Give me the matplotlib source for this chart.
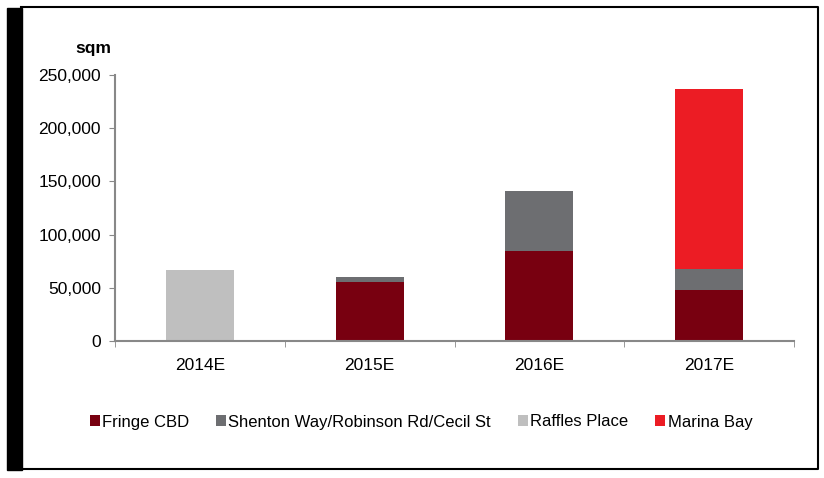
import matplotlib.pyplot as plt
from matplotlib.ticker import FuncFormatter

plt.rcParams['font.family'] = ['Liberation Sans', 'DejaVu Sans']

years = ["2014E", "2015E", "2016E", "2017E"]
fringe = [0, 55000, 85000, 48000]
shenton = [0, 5000, 56000, 20000]
raffles = [67000, 0, 0, 0]
marina = [0, 0, 0, 169000]

series = [
    ("Fringe CBD", fringe, "#780010"),
    ("Shenton Way/Robinson Rd/Cecil St", shenton, "#6d6e71"),
    ("Raffles Place", raffles, "#bfbfbf"),
    ("Marina Bay", marina, "#ec1c24"),
]

fig = plt.figure(figsize=(8.24, 4.78), dpi=100)
ax = fig.add_axes([115 / 824, 1 - 341 / 478, (794 - 115) / 824, (341 - 75) / 478])

x = range(len(years))
bottom = [0] * len(years)
for name, vals, col in series:
    ax.bar(x, vals, width=0.4, bottom=bottom, color=col, label=name)
    bottom = [b + v for b, v in zip(bottom, vals)]

ax.set_xlim(-0.5, len(years) - 0.5)
ax.set_ylim(0, 250000)
ax.set_yticks(range(0, 250001, 50000))
ax.yaxis.set_major_formatter(FuncFormatter(lambda v, p: f"{int(v):,}"))
ax.set_xticks(list(x))
ax.set_xticklabels(years)
ax.set_xticks([i + 0.5 for i in range(-1, len(years))], minor=True)
ax.tick_params(axis='x', which='major', length=0, pad=12, labelsize=12.5)
ax.tick_params(axis='x', which='minor', length=4, color='#888888', direction='out')
ax.tick_params(axis='y', length=4, color='#888888', pad=6, labelsize=12.5)
for s in ['top', 'right']:
    ax.spines[s].set_visible(False)
for s in ['left', 'bottom']:
    ax.spines[s].set_color('#888888')
    ax.spines[s].set_linewidth(1.5)

fig.text(75 / 824, 1 - 49 / 478, "sqm", fontsize=12.5, fontweight='bold', va='center')

leg = fig.legend(loc='center', bbox_to_anchor=(421 / 824, 1 - 422 / 478), ncol=4,
                 frameon=False, fontsize=12, handlelength=0.6, handleheight=0.6,
                 handletextpad=0.15, columnspacing=1.6)

# page frame
fig.patches.append(plt.Rectangle((7 / 824, 1 - 470 / 478), 15 / 824, 462 / 478,
                                 transform=fig.transFigure, color='black'))
fig.lines.append(plt.Line2D([21 / 824, 818 / 824, 818 / 824, 21 / 824],
                            [1 - 7 / 478, 1 - 7 / 478, 1 - 469 / 478, 1 - 469 / 478],
                            transform=fig.transFigure, color='black', lw=1.5))

fig.savefig("out.png", dpi=100)
